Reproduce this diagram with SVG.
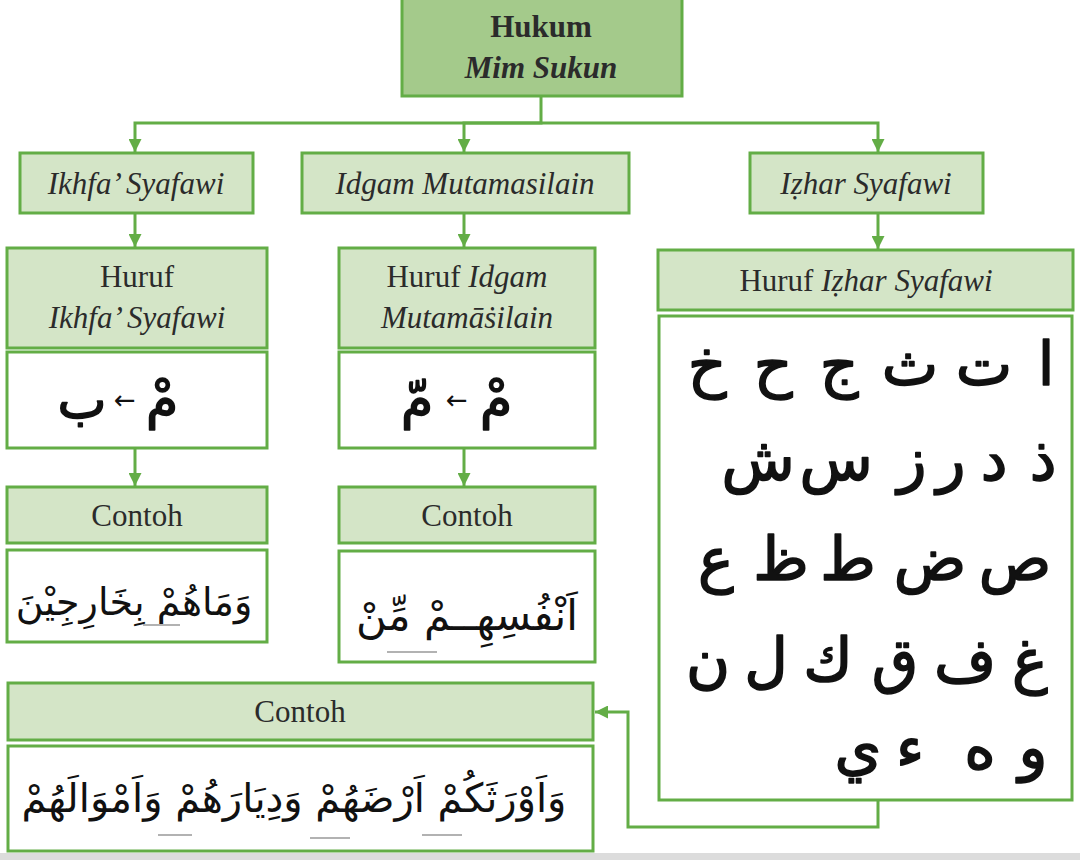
<svg xmlns="http://www.w3.org/2000/svg" width="1080" height="860" viewBox="0 0 1080 860">
<defs>
<style>
.box{fill:#d4e5c7;stroke:#63ad46;stroke-width:3}
.top{fill:#a4ca8b;stroke:#63ad46;stroke-width:3}
.wbox{fill:#ffffff;stroke:#63ad46;stroke-width:3}
.lbl{font-family:"Liberation Serif","Times New Roman",serif;font-size:31px;fill:#2b2b2b;text-anchor:middle}
.it{font-style:italic}
.bold{font-weight:bold}
.ar{font-family:"DejaVu Sans",sans-serif;fill:#111;text-anchor:middle}
.arb{stroke:#111;stroke-width:1.6;stroke-linejoin:round}
.conn{fill:none;stroke:#63ad46;stroke-width:3}
.ul{stroke:#999;stroke-width:1.5}
</style>
<marker id="ah" viewBox="0 0 12 12" refX="12" refY="6" markerWidth="13" markerHeight="13" markerUnits="userSpaceOnUse" orient="auto">
<path d="M0,0 L12,6 L0,12 z" fill="#63ad46"/>
</marker>
</defs>
<rect x="0" y="0" width="1080" height="860" fill="#ffffff"/>
<rect x="0" y="853" width="1080" height="7" fill="#dcdcdc"/>

<g id="connectors">
<path class="conn" d="M541,96 V123 H135 V152" marker-end="url(#ah)"/>
<path class="conn" d="M541,123 H464 V152" marker-end="url(#ah)"/>
<path class="conn" d="M541,123 H878 V152" marker-end="url(#ah)"/>
<path class="conn" d="M135,213 V247" marker-end="url(#ah)"/>
<path class="conn" d="M464,213 V247" marker-end="url(#ah)"/>
<path class="conn" d="M878,213 V249" marker-end="url(#ah)"/>
<path class="conn" d="M135,448 V486" marker-end="url(#ah)"/>
<path class="conn" d="M464,448 V486" marker-end="url(#ah)"/>
<path class="conn" d="M878,800 V827 H628 V712 H595" marker-end="url(#ah)"/>
</g>

<g id="n-hukum">
<rect class="top" x="402" y="-3" width="280" height="99"/>
<text class="lbl bold" x="541" y="37" font-size="32">Hukum</text>
<text class="lbl bold it" x="541" y="78" font-size="32">Mim Sukun</text>
</g>

<g id="n-ikhfa">
<rect class="box" x="20" y="153" width="233" height="60"/>
<text class="lbl it" x="136" y="194">Ikhfa’ Syafawi</text>
</g>

<g id="n-idgam">
<rect class="box" x="302" y="153" width="327" height="60"/>
<text class="lbl it" x="465" y="194">Idgam Mutamasilain</text>
</g>

<g id="n-izhar">
<rect class="box" x="750" y="153" width="233" height="60"/>
<text class="lbl it" x="866" y="194">Iẓhar Syafawi</text>
</g>

<g id="n-huruf-ikhfa">
<rect class="box" x="7" y="248" width="260" height="100"/>
<text class="lbl" x="137" y="287">Huruf</text>
<text class="lbl it" x="137" y="328">Ikhfa’ Syafawi</text>
<rect class="wbox" x="7" y="352" width="260" height="96"/>
<text class="ar arb" x="82" y="418" font-size="52">ب</text>
<text class="ar" x="125" y="409" font-size="26">←</text>
<text class="ar arb" x="162" y="418" font-size="52">مْ</text>
</g>

<g id="n-huruf-idgam">
<rect class="box" x="339" y="248" width="256" height="100"/>
<text class="lbl" x="467" y="287">Huruf <tspan class="it">Idgam</tspan></text>
<text class="lbl it" x="467" y="328">Mutamāṡilain</text>
<rect class="wbox" x="339" y="352" width="256" height="96"/>
<text class="ar arb" x="417" y="418" font-size="52">مّ</text>
<text class="ar" x="457" y="409" font-size="26">←</text>
<text class="ar arb" x="496" y="418" font-size="52">مْ</text>
</g>

<g id="n-contoh-ikhfa">
<rect class="box" x="7" y="487" width="260" height="56"/>
<text class="lbl" x="137" y="526">Contoh</text>
<rect class="wbox" x="7" y="550" width="260" height="92"/>
<text class="ar" x="134" y="615" font-size="38">وَمَاهُمْ بِخَارِجِيْنَ</text>
<line class="ul" x1="143" y1="625" x2="180" y2="625"/>
</g>

<g id="n-contoh-idgam">
<rect class="box" x="339" y="487" width="256" height="56"/>
<text class="lbl" x="467" y="526">Contoh</text>
<rect class="wbox" x="339" y="551" width="256" height="111"/>
<text class="ar" x="467" y="630" font-size="42">اَنْفُسِهِــمْ مِّنْ</text>
<line class="ul" x1="387" y1="652" x2="437" y2="652"/>
</g>

<g id="n-huruf-izhar">
<rect class="box" x="658" y="250" width="415" height="60"/>
<text class="lbl" x="866" y="291">Huruf <tspan class="it">Iẓhar Syafawi</tspan></text>
<rect class="wbox" x="659" y="316" width="413" height="484"/>
<text class="ar arb" font-size="60">
<tspan x="1046" y="385">ا</tspan><tspan x="984" y="385">ت</tspan><tspan x="910" y="385">ث</tspan><tspan x="839" y="385">ج</tspan><tspan x="773" y="385">ح</tspan><tspan x="707" y="385">خ</tspan>
</text>
<text class="ar arb" font-size="60">
<tspan x="1043" y="480">ذ</tspan><tspan x="994" y="480">د</tspan><tspan x="951" y="480">ر</tspan><tspan x="912" y="480">ز</tspan><tspan x="836" y="480">س</tspan><tspan x="758" y="480">ش</tspan>
</text>
<text class="ar arb" font-size="60">
<tspan x="1015" y="580">ص</tspan><tspan x="930" y="580">ض</tspan><tspan x="848" y="580">ط</tspan><tspan x="781" y="580">ظ</tspan><tspan x="716" y="580">ع</tspan>
</text>
<text class="ar arb" font-size="60">
<tspan x="1030" y="681">غ</tspan><tspan x="965" y="681">ف</tspan><tspan x="895" y="681">ق</tspan><tspan x="828" y="681">ك</tspan><tspan x="766" y="681">ل</tspan><tspan x="708" y="681">ن</tspan>
</text>
<text class="ar arb" font-size="60">
<tspan x="1033" y="768">و</tspan><tspan x="980" y="768">ه</tspan><tspan x="910" y="768">ء</tspan><tspan x="858" y="768">ي</tspan>
</text>
</g>

<g id="n-contoh-izhar">
<rect class="box" x="8" y="683" width="585" height="57"/>
<text class="lbl" x="300" y="722">Contoh</text>
<rect class="wbox" x="8" y="746" width="585" height="105"/>
<text class="ar" x="294" y="812" font-size="40">وَاَوْرَثَكُمْ اَرْضَهُمْ وَدِيَارَهُمْ وَاَمْوَالَهُمْ</text>
<line class="ul" x1="158" y1="835" x2="192" y2="835"/>
<line class="ul" x1="310" y1="838" x2="350" y2="838"/>
<line class="ul" x1="422" y1="835" x2="462" y2="835"/>
</g>
</svg>
